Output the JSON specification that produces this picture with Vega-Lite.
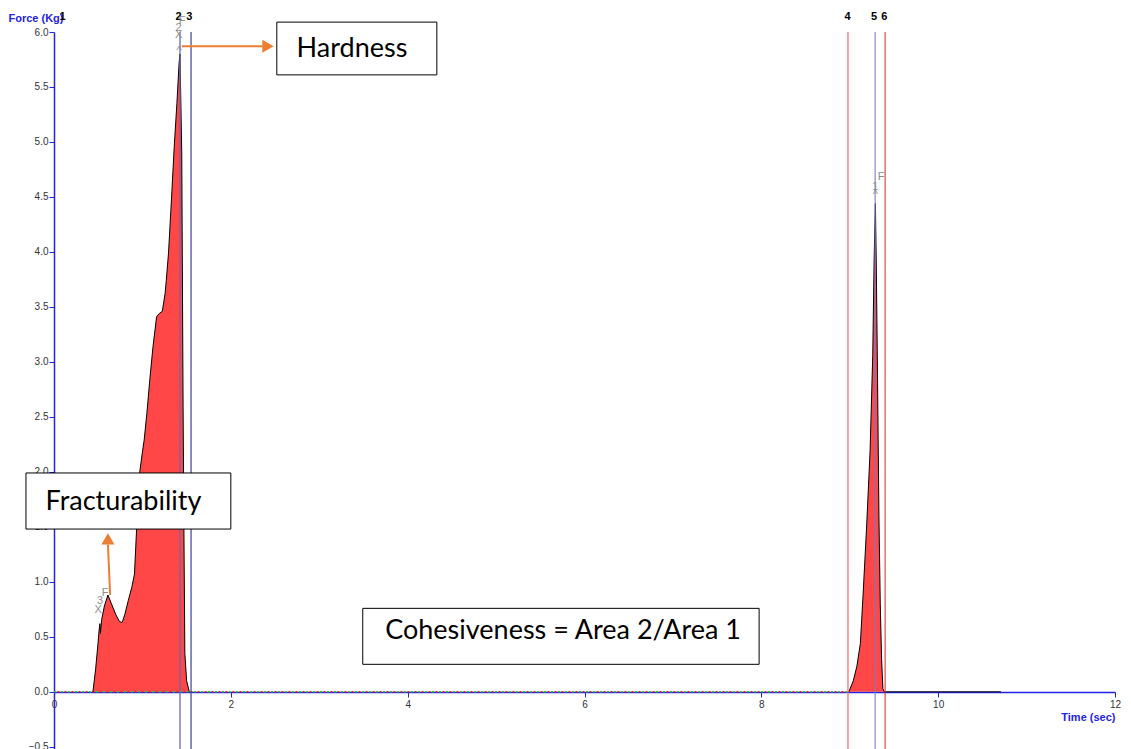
{
  "$schema": "https://vega.github.io/schema/vega-lite/v6.json",
  "width": 1061,
  "height": 717,
  "autosize": {"type": "none"},
  "padding": {"left": 54, "top": 32, "right": 16, "bottom": 0},
  "background": "white",
  "config": {
    "view": {"stroke": null},
    "font": "Liberation Sans",
    "axis": {"labelFont": "Liberation Sans", "titleFont": "Liberation Sans"}
  },
  "datasets": {
    "curve": [
      {"seg": "A", "t": 0.44, "f": 0}, {"seg": "A", "t": 0.47, "f": 0.2}, {"seg": "A", "t": 0.50, "f": 0.46},
      {"seg": "A", "t": 0.51, "f": 0.56}, {"seg": "A", "t": 0.52, "f": 0.62}, {"seg": "A", "t": 0.525, "f": 0.53},
      {"seg": "A", "t": 0.54, "f": 0.66}, {"seg": "A", "t": 0.57, "f": 0.78}, {"seg": "A", "t": 0.61, "f": 0.88},
      {"seg": "A", "t": 0.65, "f": 0.80}, {"seg": "A", "t": 0.70, "f": 0.70}, {"seg": "A", "t": 0.74, "f": 0.64},
      {"seg": "A", "t": 0.77, "f": 0.63}, {"seg": "A", "t": 0.80, "f": 0.70}, {"seg": "A", "t": 0.84, "f": 0.83},
      {"seg": "A", "t": 0.88, "f": 0.95}, {"seg": "A", "t": 0.91, "f": 1.07}, {"seg": "A", "t": 0.935, "f": 1.49},
      {"seg": "A", "t": 0.95, "f": 1.75}, {"seg": "A", "t": 0.97, "f": 2.0}, {"seg": "A", "t": 1.0, "f": 2.18},
      {"seg": "A", "t": 1.02, "f": 2.29}, {"seg": "A", "t": 1.05, "f": 2.53}, {"seg": "A", "t": 1.086, "f": 2.86},
      {"seg": "A", "t": 1.12, "f": 3.14}, {"seg": "A", "t": 1.16, "f": 3.41}, {"seg": "A", "t": 1.19, "f": 3.44},
      {"seg": "A", "t": 1.225, "f": 3.46}, {"seg": "A", "t": 1.256, "f": 3.62}, {"seg": "A", "t": 1.27, "f": 3.74},
      {"seg": "A", "t": 1.295, "f": 3.99}, {"seg": "A", "t": 1.33, "f": 4.50}, {"seg": "A", "t": 1.36, "f": 4.96},
      {"seg": "A", "t": 1.39, "f": 5.35}, {"seg": "A", "t": 1.415, "f": 5.72}, {"seg": "A", "t": 1.425, "f": 5.8},
      {"seg": "A", "t": 1.445, "f": 4.9}, {"seg": "A", "t": 1.46, "f": 2.6}, {"seg": "A", "t": 1.47, "f": 1.4},
      {"seg": "A", "t": 1.48, "f": 0.35}, {"seg": "A", "t": 1.50, "f": 0.1}, {"seg": "A", "t": 1.53, "f": 0},
      {"seg": "B", "t": 8.99, "f": 0}, {"seg": "B", "t": 9.04, "f": 0.10}, {"seg": "B", "t": 9.08, "f": 0.23},
      {"seg": "B", "t": 9.12, "f": 0.44}, {"seg": "B", "t": 9.15, "f": 0.87}, {"seg": "B", "t": 9.19, "f": 1.49},
      {"seg": "B", "t": 9.23, "f": 2.19}, {"seg": "B", "t": 9.26, "f": 3.06}, {"seg": "B", "t": 9.275, "f": 3.9},
      {"seg": "B", "t": 9.29, "f": 4.44}, {"seg": "B", "t": 9.30, "f": 3.9}, {"seg": "B", "t": 9.315, "f": 2.8},
      {"seg": "B", "t": 9.33, "f": 1.6}, {"seg": "B", "t": 9.345, "f": 0.8}, {"seg": "B", "t": 9.36, "f": 0.3},
      {"seg": "B", "t": 9.375, "f": 0.03}, {"seg": "B", "t": 9.39, "f": 0}, {"seg": "B", "t": 10.71, "f": 0}
    ],
    "noise": [{"t": 0, "t2": 8.99, "f": 0}],
    "markers": [
      {"t": 1.425, "label": "2"}, {"t": 1.55, "label": "3"}, {"t": 8.98, "label": "4"},
      {"t": 9.287, "label": "5"}, {"t": 9.40, "label": "6"}
    ],
    "toplabels": [
      {"t": 0.096, "label": "1"}, {"t": 1.41, "label": "2"}, {"t": 1.53, "label": "3"},
      {"t": 8.976, "label": "4"}, {"t": 9.276, "label": "5"}, {"t": 9.39, "label": "6"}
    ],
    "tags": [
      {"t": 0.577, "f": 0.90, "label": "F"}, {"t": 0.52, "f": 0.83, "label": "3"}, {"t": 0.50, "f": 0.74, "label": "X"},
      {"t": 1.45, "f": 6.10, "label": "F"}, {"t": 1.41, "f": 6.04, "label": "2"}, {"t": 1.41, "f": 5.97, "label": "X"},
      {"t": 1.415, "f": 5.83, "label": "^"},
      {"t": 9.355, "f": 4.68, "label": "F"}, {"t": 9.29, "f": 4.59, "label": "1"}, {"t": 9.29, "f": 4.52, "label": "^"}
    ],
    "arrows": [
      {"t": 1.445, "f": 5.87, "t2": 2.36, "f2": 5.87},
      {"t": 0.635, "f": 0.88, "t2": 0.61, "f2": 1.34}
    ],
    "heads": [
      {"t": 2.42, "f": 5.87, "dir": "right"},
      {"t": 0.61, "f": 1.39, "dir": "up"}
    ],
    "boxes": [
      {"t": 2.52, "t2": 4.33, "f": 6.09, "f2": 5.61, "tc": 3.37, "fc": 5.77, "label": "Hardness"},
      {"t": -0.317, "t2": 2.0, "f": 1.99, "f2": 1.48, "tc": 0.786, "fc": 1.655, "label": "Fracturability"},
      {"t": 3.492, "t2": 7.975, "f": 0.759, "f2": 0.25, "tc": 5.758, "fc": 0.48, "label": "Cohesiveness = Area 2/Area 1"}
    ]
  },
  "layer": [
    {
      "data": {"name": "curve"},
      "mark": {"type": "area", "color": "#ff1f1f", "opacity": 0.82},
      "encoding": {
        "x": {
          "field": "t", "type": "quantitative",
          "scale": {"domain": [0, 12], "nice": false, "zero": false},
          "axis": {
            "values": [0, 2, 4, 6, 8, 10, 12], "format": "d", "offset": -57, "labelFlush": false,
            "title": "Time (sec)", "titleAnchor": "end", "titleAlign": "right", "titleX": 1061, "titleY": 25,
            "titleBaseline": "middle", "titleColor": "#2323e6", "titleFontWeight": "bold", "titleFontSize": 11,
            "domainColor": "#2323e6", "domainWidth": 1.5, "tickColor": "#2323e6", "tickSize": 5,
            "labelFontSize": 10, "labelColor": "#333333", "labelPadding": 2, "grid": false
          }
        },
        "y": {
          "field": "f", "type": "quantitative",
          "scale": {"domain": [-0.52, 6.0], "nice": false, "zero": false},
          "axis": {
            "values": [-0.5, 0, 0.5, 1, 1.5, 2, 2.5, 3, 3.5, 4, 4.5, 5, 5.5, 6], "format": ".1f",
            "title": "Force (Kg)", "titleAngle": 0, "titleAlign": "left", "titleX": -46, "titleY": -14,
            "titleBaseline": "middle", "titleColor": "#2323e6", "titleFontWeight": "bold", "titleFontSize": 11,
            "domainColor": "#2323e6", "domainWidth": 1.5, "tickColor": "#2323e6", "tickSize": 5,
            "labelFontSize": 10, "labelColor": "#333333", "labelPadding": 1, "grid": false
          }
        },
        "y2": {"datum": 0},
        "detail": {"field": "seg"}
      }
    },
    {
      "data": {"name": "noise"},
      "mark": {"type": "rule", "color": "#22cc22", "strokeWidth": 1.4, "strokeDash": [2, 5]},
      "encoding": {
        "x": {"field": "t", "type": "quantitative"},
        "x2": {"field": "t2"},
        "y": {"field": "f", "type": "quantitative"}
      }
    },
    {
      "data": {"name": "noise"},
      "mark": {"type": "rule", "color": "#ee2222", "strokeWidth": 1.4, "strokeDash": [2, 5], "strokeDashOffset": 3.5},
      "encoding": {
        "x": {"field": "t", "type": "quantitative"},
        "x2": {"field": "t2"},
        "y": {"field": "f", "type": "quantitative"}
      }
    },
    {
      "data": {"name": "curve"},
      "mark": {"type": "line", "color": "black", "strokeWidth": 1},
      "encoding": {
        "x": {"field": "t", "type": "quantitative"},
        "y": {"field": "f", "type": "quantitative"},
        "detail": {"field": "seg"}
      }
    },
    {
      "data": {"name": "markers"},
      "mark": {"type": "rule"},
      "encoding": {
        "x": {"field": "t", "type": "quantitative"},
        "color": {
          "field": "label", "type": "nominal", "legend": null,
          "scale": {"domain": ["2", "3", "4", "5", "6"], "range": ["#6a6aa8", "#4040a8", "#ff5c5c", "#7878c4", "#e02424"]}
        },
        "size": {
          "field": "label", "type": "ordinal", "legend": null,
          "scale": {"domain": ["2", "3", "4", "5", "6"], "range": [1.3, 1, 1.2, 2, 1.2]}
        }
      }
    },
    {
      "data": {"name": "toplabels"},
      "mark": {"type": "text", "fontSize": 11, "fontWeight": "bold", "color": "black", "baseline": "middle", "align": "center"},
      "encoding": {
        "x": {"field": "t", "type": "quantitative"},
        "y": {"datum": 6.14},
        "text": {"field": "label"}
      }
    },
    {
      "data": {"name": "tags"},
      "mark": {"type": "text", "fontSize": 11, "color": "#8c8c8c", "baseline": "middle", "align": "center"},
      "encoding": {
        "x": {"field": "t", "type": "quantitative"},
        "y": {"field": "f", "type": "quantitative"},
        "text": {"field": "label"}
      }
    },
    {
      "data": {"name": "arrows"},
      "mark": {"type": "rule", "color": "#ed7d31", "strokeWidth": 2},
      "encoding": {
        "x": {"field": "t", "type": "quantitative"},
        "y": {"field": "f", "type": "quantitative"},
        "x2": {"field": "t2"},
        "y2": {"field": "f2"}
      }
    },
    {
      "data": {"name": "heads"},
      "mark": {"type": "point", "filled": true, "color": "#ed7d31", "opacity": 1, "size": 170},
      "encoding": {
        "x": {"field": "t", "type": "quantitative"},
        "y": {"field": "f", "type": "quantitative"},
        "shape": {
          "field": "dir", "type": "nominal", "legend": null,
          "scale": {"domain": ["right", "up"], "range": ["triangle-right", "triangle-up"]}
        }
      }
    },
    {
      "data": {"name": "boxes"},
      "mark": {"type": "rect", "fill": "white", "stroke": "black", "strokeWidth": 1},
      "encoding": {
        "x": {"field": "t", "type": "quantitative"},
        "x2": {"field": "t2"},
        "y": {"field": "f", "type": "quantitative"},
        "y2": {"field": "f2"}
      }
    },
    {
      "data": {"name": "boxes"},
      "mark": {"type": "text", "font": "Lato", "fontSize": 27, "color": "black", "baseline": "alphabetic", "align": "center"},
      "encoding": {
        "x": {"field": "tc", "type": "quantitative"},
        "y": {"field": "fc", "type": "quantitative"},
        "text": {"field": "label"}
      }
    }
  ]
}
